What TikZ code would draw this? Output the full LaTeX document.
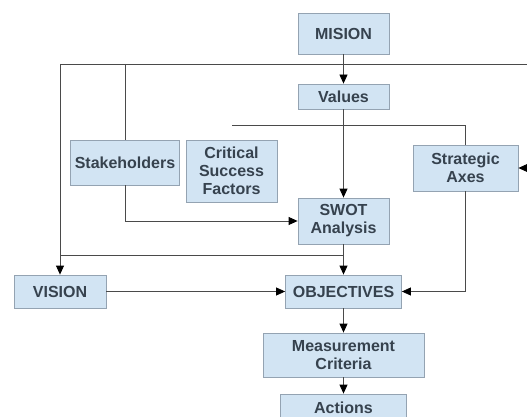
\documentclass[tikz,border=0pt]{standalone}
\usepackage{fontspec}
\setmainfont{Liberation Sans}
\usetikzlibrary{arrows.meta}
\definecolor{boxfill}{HTML}{D2E4F3}
\definecolor{boxline}{HTML}{94A3B2}
\definecolor{boxtext}{HTML}{36424E}
\definecolor{conn}{HTML}{4A4A4A}
\tikzset{
  box/.style={draw=boxline, line width=0.8pt, fill=boxfill, text=boxtext,
    font=\fontsize{16}{18}\selectfont\bfseries, align=center, inner sep=0pt},
  link/.style={draw=conn, line width=0.8pt},
  arr/.style={link, -{Triangle[length=9pt,width=8pt,fill=black,color=black]}}
}
\begin{document}
\begin{tikzpicture}[x=1pt,y=-1pt]
\clip (0,0) rectangle (527,417);
\useasboundingbox (0,0) rectangle (527,417);
\node[box, minimum width=91pt, minimum height=41pt] (mision) at (343.5,33.5) {MISION};
\node[box, minimum width=91pt, minimum height=25pt] (values) at (343.5,96.5) {Values};
\node[box, minimum width=109pt, minimum height=45pt] (stake) at (125,162.5) {Stakeholders};
\node[box, minimum width=91pt, minimum height=62pt] (csf) at (231.5,171) {Critical\\Success\\Factors};
\node[box, minimum width=105pt, minimum height=46pt] (axes) at (465.5,168) {Strategic\\Axes};
\node[box, minimum width=91pt, minimum height=46pt] (swot) at (343.5,221) {SWOT\\Analysis};
\node[box, minimum width=92pt, minimum height=33pt] (vision) at (60,291.5) {VISION};
\node[box, minimum width=116pt, minimum height=33pt] (obj) at (343.5,291.5) {OBJECTIVES};
\node[box, minimum width=161pt, minimum height=44pt] (meas) at (343.5,355) {Measurement\\Criteria};
\node[box, minimum width=126pt, minimum height=28pt] (actions) at (343.5,408) {Actions};

\coordinate (tl) at (60,64);
\coordinate (tr) at (527,64);
\coordinate (ts) at (125,64);
\coordinate (rin) at (527,168);
\coordinate (csfl) at (232,125);
\coordinate (lowl) at (60,255);
\coordinate (lowr) at (343.5,255);

\draw[arr] (mision) -- (values);
\draw[link] (tl) -- (tr);
\draw[link] (ts) -- (stake.north);
\draw[arr] (tl) -- (vision.north);
\draw[arr] (rin) -- (axes.east);
\draw[arr] (values) -- (swot);
\draw[link] (csfl) -| (axes.north);
\draw[arr] (stake.south) |- (swot.west);
\draw[arr] (swot) -- (obj);
\draw[link] (lowl) -- (lowr);
\draw[arr] (vision) -- (obj);
\draw[arr] (axes.south) |- (obj.east);
\draw[arr] (obj) -- (meas);
\draw[arr] (meas) -- (actions);
\end{tikzpicture}
\end{document}
